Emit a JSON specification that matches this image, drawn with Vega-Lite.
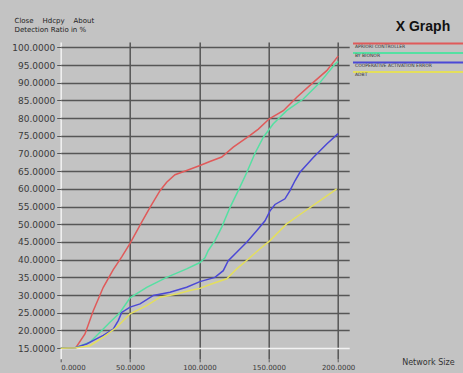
{
  "$schema": "https://vega.github.io/schema/vega-lite/v6.json",
  "width": 288.5,
  "height": 316.8,
  "autosize": "none",
  "padding": {"left": 60.7, "top": 42, "right": 113.8, "bottom": 14.2},
  "background": "#c3c3c3",
  "title": {
    "text": "X Graph",
    "anchor": "end",
    "frame": "group",
    "dx": 101,
    "dy": 22,
    "font": "Liberation Sans",
    "fontSize": 14,
    "fontWeight": "bold",
    "color": "#111111"
  },
  "data": {
    "values": [
      {"series": "APRIORI CONTROLLER", "size": 0, "ratio": 15},
      {"series": "APRIORI CONTROLLER", "size": 11, "ratio": 15.2},
      {"series": "APRIORI CONTROLLER", "size": 17.5, "ratio": 19},
      {"series": "APRIORI CONTROLLER", "size": 23.5, "ratio": 25.6},
      {"series": "APRIORI CONTROLLER", "size": 30.7, "ratio": 32.2},
      {"series": "APRIORI CONTROLLER", "size": 37.9, "ratio": 37.2},
      {"series": "APRIORI CONTROLLER", "size": 44, "ratio": 40.8},
      {"series": "APRIORI CONTROLLER", "size": 50, "ratio": 44.6},
      {"series": "APRIORI CONTROLLER", "size": 58.4, "ratio": 50.6},
      {"series": "APRIORI CONTROLLER", "size": 64.4, "ratio": 54.8},
      {"series": "APRIORI CONTROLLER", "size": 71.6, "ratio": 59.5},
      {"series": "APRIORI CONTROLLER", "size": 76.4, "ratio": 61.9},
      {"series": "APRIORI CONTROLLER", "size": 82.4, "ratio": 64},
      {"series": "APRIORI CONTROLLER", "size": 90.8, "ratio": 65.2},
      {"series": "APRIORI CONTROLLER", "size": 100.4, "ratio": 66.6},
      {"series": "APRIORI CONTROLLER", "size": 108, "ratio": 67.8},
      {"series": "APRIORI CONTROLLER", "size": 116.1, "ratio": 69},
      {"series": "APRIORI CONTROLLER", "size": 124.4, "ratio": 71.8},
      {"series": "APRIORI CONTROLLER", "size": 136.5, "ratio": 75.1},
      {"series": "APRIORI CONTROLLER", "size": 142.5, "ratio": 76.9},
      {"series": "APRIORI CONTROLLER", "size": 150.4, "ratio": 79.8},
      {"series": "APRIORI CONTROLLER", "size": 160.5, "ratio": 82.1},
      {"series": "APRIORI CONTROLLER", "size": 170.2, "ratio": 85.9},
      {"series": "APRIORI CONTROLLER", "size": 182.1, "ratio": 90.1},
      {"series": "APRIORI CONTROLLER", "size": 191.8, "ratio": 93.4},
      {"series": "APRIORI CONTROLLER", "size": 200, "ratio": 97.5},

      {"series": "BY BIONOR", "size": 0, "ratio": 15},
      {"series": "BY BIONOR", "size": 11, "ratio": 15.2},
      {"series": "BY BIONOR", "size": 21.1, "ratio": 16.7},
      {"series": "BY BIONOR", "size": 28.3, "ratio": 19.5},
      {"series": "BY BIONOR", "size": 35.5, "ratio": 22.3},
      {"series": "BY BIONOR", "size": 42.8, "ratio": 25.1},
      {"series": "BY BIONOR", "size": 50, "ratio": 29.2},
      {"series": "BY BIONOR", "size": 62, "ratio": 32.2},
      {"series": "BY BIONOR", "size": 76.4, "ratio": 35},
      {"series": "BY BIONOR", "size": 90.8, "ratio": 37.4},
      {"series": "BY BIONOR", "size": 100.4, "ratio": 39.2},
      {"series": "BY BIONOR", "size": 104, "ratio": 40.5},
      {"series": "BY BIONOR", "size": 106.4, "ratio": 42.6},
      {"series": "BY BIONOR", "size": 111.2, "ratio": 45.4},
      {"series": "BY BIONOR", "size": 116.1, "ratio": 49.2},
      {"series": "BY BIONOR", "size": 122.1, "ratio": 54.8},
      {"series": "BY BIONOR", "size": 128, "ratio": 59.5},
      {"series": "BY BIONOR", "size": 134, "ratio": 64.5},
      {"series": "BY BIONOR", "size": 140, "ratio": 70},
      {"series": "BY BIONOR", "size": 146.1, "ratio": 74.6},
      {"series": "BY BIONOR", "size": 153.3, "ratio": 78.4},
      {"series": "BY BIONOR", "size": 162.9, "ratio": 82.1},
      {"series": "BY BIONOR", "size": 174.9, "ratio": 85.4},
      {"series": "BY BIONOR", "size": 187, "ratio": 90.1},
      {"series": "BY BIONOR", "size": 197.8, "ratio": 95.3},
      {"series": "BY BIONOR", "size": 200, "ratio": 96},

      {"series": "COOPERATIVE ACTIVATION ERROR", "size": 0, "ratio": 15},
      {"series": "COOPERATIVE ACTIVATION ERROR", "size": 11, "ratio": 15.2},
      {"series": "COOPERATIVE ACTIVATION ERROR", "size": 18.7, "ratio": 16.2},
      {"series": "COOPERATIVE ACTIVATION ERROR", "size": 25, "ratio": 17.5},
      {"series": "COOPERATIVE ACTIVATION ERROR", "size": 30.7, "ratio": 18.6},
      {"series": "COOPERATIVE ACTIVATION ERROR", "size": 37.9, "ratio": 20.4},
      {"series": "COOPERATIVE ACTIVATION ERROR", "size": 41.5, "ratio": 22.8},
      {"series": "COOPERATIVE ACTIVATION ERROR", "size": 44, "ratio": 25.1},
      {"series": "COOPERATIVE ACTIVATION ERROR", "size": 50, "ratio": 26.6},
      {"series": "COOPERATIVE ACTIVATION ERROR", "size": 57.2, "ratio": 27.5},
      {"series": "COOPERATIVE ACTIVATION ERROR", "size": 66.8, "ratio": 29.9},
      {"series": "COOPERATIVE ACTIVATION ERROR", "size": 78.8, "ratio": 30.8},
      {"series": "COOPERATIVE ACTIVATION ERROR", "size": 90.8, "ratio": 32.2},
      {"series": "COOPERATIVE ACTIVATION ERROR", "size": 100.4, "ratio": 33.8},
      {"series": "COOPERATIVE ACTIVATION ERROR", "size": 111.2, "ratio": 35},
      {"series": "COOPERATIVE ACTIVATION ERROR", "size": 117.2, "ratio": 36.9},
      {"series": "COOPERATIVE ACTIVATION ERROR", "size": 120.8, "ratio": 39.7},
      {"series": "COOPERATIVE ACTIVATION ERROR", "size": 126.9, "ratio": 42.1},
      {"series": "COOPERATIVE ACTIVATION ERROR", "size": 134.1, "ratio": 44.9},
      {"series": "COOPERATIVE ACTIVATION ERROR", "size": 141.3, "ratio": 48.2},
      {"series": "COOPERATIVE ACTIVATION ERROR", "size": 147.3, "ratio": 51},
      {"series": "COOPERATIVE ACTIVATION ERROR", "size": 150.9, "ratio": 53.8},
      {"series": "COOPERATIVE ACTIVATION ERROR", "size": 154.5, "ratio": 55.6},
      {"series": "COOPERATIVE ACTIVATION ERROR", "size": 161.7, "ratio": 57.2},
      {"series": "COOPERATIVE ACTIVATION ERROR", "size": 165.3, "ratio": 59.5},
      {"series": "COOPERATIVE ACTIVATION ERROR", "size": 168.9, "ratio": 62.3},
      {"series": "COOPERATIVE ACTIVATION ERROR", "size": 172.5, "ratio": 64.7},
      {"series": "COOPERATIVE ACTIVATION ERROR", "size": 182.1, "ratio": 68.9},
      {"series": "COOPERATIVE ACTIVATION ERROR", "size": 191.8, "ratio": 72.7},
      {"series": "COOPERATIVE ACTIVATION ERROR", "size": 200, "ratio": 75.6},

      {"series": "ADBT", "size": 0, "ratio": 15},
      {"series": "ADBT", "size": 11, "ratio": 15.1},
      {"series": "ADBT", "size": 21.1, "ratio": 15.7},
      {"series": "ADBT", "size": 30.7, "ratio": 18.1},
      {"series": "ADBT", "size": 40.4, "ratio": 20.9},
      {"series": "ADBT", "size": 50, "ratio": 24.7},
      {"series": "ADBT", "size": 62, "ratio": 27},
      {"series": "ADBT", "size": 71.6, "ratio": 29.4},
      {"series": "ADBT", "size": 83.6, "ratio": 30.3},
      {"series": "ADBT", "size": 93.2, "ratio": 31.3},
      {"series": "ADBT", "size": 100.4, "ratio": 31.9},
      {"series": "ADBT", "size": 107.6, "ratio": 33},
      {"series": "ADBT", "size": 119.7, "ratio": 34.6},
      {"series": "ADBT", "size": 126.9, "ratio": 37.4},
      {"series": "ADBT", "size": 135.3, "ratio": 40.2},
      {"series": "ADBT", "size": 143.7, "ratio": 43.1},
      {"series": "ADBT", "size": 150.9, "ratio": 45.4},
      {"series": "ADBT", "size": 162.9, "ratio": 50.1},
      {"series": "ADBT", "size": 174.9, "ratio": 53.4},
      {"series": "ADBT", "size": 187, "ratio": 56.7},
      {"series": "ADBT", "size": 199, "ratio": 60}
    ]
  },
  "mark": {"type": "line", "strokeWidth": 1.5},
  "encoding": {
    "x": {
      "field": "size",
      "type": "quantitative",
      "scale": {"domain": [0, 208], "nice": false, "zero": false},
      "axis": {
        "values": [0, 50, 100, 150, 200],
        "format": ".4f",
        "domain": false,
        "grid": true,
        "gridColor": {"condition": {"test": "datum.value === 0", "value": "#f2f2f2"}, "value": "#565656"},
        "gridWidth": 1.5,
        "tickColor": "#555555",
        "tickSize": 3,
        "labelPadding": 2,
        "labelFont": "DejaVu Sans",
        "labelFontSize": 7,
        "labelColor": "#3a3a3a",
        "title": "Network Size",
        "titleFont": "DejaVu Sans",
        "titleFontSize": 8,
        "titleFontWeight": "normal",
        "titleColor": "#333333",
        "titleAlign": "left",
        "titleBaseline": "middle",
        "titleX": 341,
        "titleY": 4
      }
    },
    "y": {
      "field": "ratio",
      "type": "quantitative",
      "scale": {"domain": [12, 101.5], "nice": false, "zero": false},
      "axis": {
        "values": [15, 20, 25, 30, 35, 40, 45, 50, 55, 60, 65, 70, 75, 80, 85, 90, 95, 100],
        "format": ".4f",
        "domain": false,
        "grid": true,
        "gridColor": {"condition": {"test": "datum.value === 15", "value": "#f2f2f2"}, "value": "#565656"},
        "gridWidth": 1.5,
        "tickColor": "#555555",
        "tickSize": 4,
        "labelPadding": 2,
        "labelFont": "DejaVu Sans",
        "labelFontSize": 9,
        "labelColor": "#3a3a3a",
        "title": ["Close\u00a0\u00a0\u00a0\u00a0Hdcpy\u00a0\u00a0\u00a0\u00a0About", "Detection Ratio in %"],
        "titleAngle": 0,
        "titleAlign": "left",
        "titleBaseline": "top",
        "titleX": -46.7,
        "titleY": -26,
        "titleFont": "DejaVu Sans",
        "titleFontSize": 7,
        "titleFontWeight": "normal",
        "titleColor": "#222222",
        "titleLineHeight": 9.5
      }
    },
    "color": {
      "field": "series",
      "type": "nominal",
      "scale": {
        "domain": ["APRIORI CONTROLLER", "BY BIONOR", "COOPERATIVE ACTIVATION ERROR", "ADBT"],
        "range": ["#e05a5a", "#55e0a2", "#4b48d6", "#e4df5c"]
      },
      "legend": {
        "orient": "none",
        "legendX": 291.3,
        "legendY": -3,
        "title": null,
        "padding": 0,
        "symbolType": "M-1,0H31",
        "symbolSize": 49,
        "symbolStrokeWidth": 2,
        "labelOffset": -6,
        "labelBaseline": "top",
        "labelFont": "DejaVu Sans",
        "labelFontSize": 4.5,
        "labelColor": "#333333",
        "labelLimit": 200,
        "rowPadding": 0.5
      }
    }
  },
  "config": {"view": {"stroke": null}}
}
